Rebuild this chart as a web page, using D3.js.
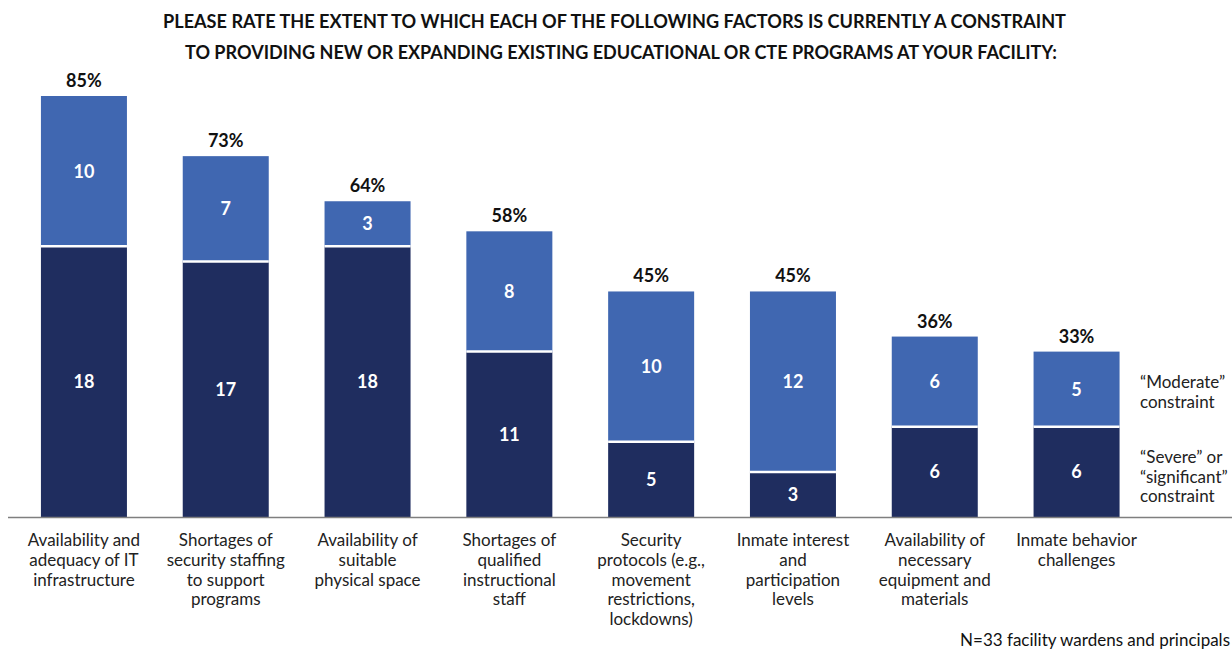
<!DOCTYPE html>
<html>
<head>
<meta charset="utf-8">
<script src="https://cdn.jsdelivr.net/npm/d3@7"></script>
<style>
  html, body { margin: 0; padding: 0; background: #fff; }
  svg { display: block; }
</style>
</head>
<body>
<svg id="chart" width="1232" height="649"></svg>
<script>
// Constraint factors, counts of respondents (N = 33)
const categories = [
  ["Availability and", "adequacy of IT", "infrastructure"],
  ["Shortages of", "security staffing", "to support", "programs"],
  ["Availability of", "suitable", "physical space"],
  ["Shortages of", "qualified", "instructional", "staff"],
  ["Security", "protocols (e.g.,", "movement", "restrictions,", "lockdowns)"],
  ["Inmate interest", "and", "participation", "levels"],
  ["Availability of", "necessary", "equipment and", "materials"],
  ["Inmate behavior", "challenges"]
];
const severe   = [18, 17, 18, 11, 5, 3, 6, 6];
const moderate = [10, 7, 3, 8, 10, 12, 6, 5];
const respondents = 33;

const titleLines = [
  "PLEASE RATE THE EXTENT TO WHICH EACH OF THE FOLLOWING FACTORS IS CURRENTLY A CONSTRAINT",
  "TO PROVIDING NEW OR EXPANDING EXISTING EDUCATIONAL OR CTE PROGRAMS AT YOUR FACILITY:"
];
const legendModerate = ["\u201CModerate\u201D", "constraint"];
const legendSevere = ["\u201CSevere\u201D or", "\u201Csignificant\u201D", "constraint"];
const footnote = "N=33 facility wardens and principals";

const colors = { severe: "#1f2d5f", moderate: "#4067b1" };
const labelFont = "Lato, 'Open Sans', sans-serif";

const svg = d3.select("#chart");
const baseline = 517;

const x = d3.scaleBand()
  .domain(d3.range(categories.length))
  .range([13, 1147.5])
  .paddingInner(0.3935)
  .paddingOuter(0.197);

const y = d3.scaleLinear()
  .domain([0, 28])
  .range([baseline, 96]);

// Title, two centred lines
const titleLayout = [
  { cx: 614.5, len: 903 },
  { cx: 621, len: 872 }
];
svg.append("g").selectAll("text")
  .data(titleLines)
  .join("text")
  .attr("x", (d, i) => titleLayout[i].cx)
  .attr("y", (d, i) => 28 + i * 31)
  .attr("text-anchor", "middle")
  .attr("font-family", labelFont)
  .attr("font-weight", "bold")
  .attr("font-size", 18)
  .attr("textLength", (d, i) => titleLayout[i].len)
  .attr("lengthAdjust", "spacingAndGlyphs")
  .attr("fill", "#111")
  .text(d => d);

// Stacked bars
const rows = categories.map((c, i) => ({
  i, sev: severe[i], mod: moderate[i], total: severe[i] + moderate[i]
}));

const bars = svg.append("g").selectAll("g").data(rows).join("g");

bars.append("rect")
  .attr("x", d => x(d.i))
  .attr("width", x.bandwidth())
  .attr("y", d => y(d.sev))
  .attr("height", d => y(0) - y(d.sev))
  .attr("fill", colors.severe);

bars.append("rect")
  .attr("x", d => x(d.i))
  .attr("width", x.bandwidth())
  .attr("y", d => y(d.total))
  .attr("height", d => y(d.sev) - y(d.total))
  .attr("fill", colors.moderate);

// White divider between the two segments
bars.append("line")
  .attr("x1", d => x(d.i))
  .attr("x2", d => x(d.i) + x.bandwidth())
  .attr("y1", d => y(d.sev))
  .attr("y2", d => y(d.sev))
  .attr("stroke", "#fff")
  .attr("stroke-width", 2.5);

// Segment values
bars.append("text")
  .attr("x", d => x(d.i) + x.bandwidth() / 2)
  .attr("y", d => (y(0) + y(d.sev)) / 2 + 6.5)
  .attr("text-anchor", "middle")
  .attr("font-family", labelFont)
  .attr("font-weight", "bold")
  .attr("font-size", 18)
  .attr("fill", "#fff")
  .text(d => d.sev);

bars.append("text")
  .attr("x", d => x(d.i) + x.bandwidth() / 2)
  .attr("y", d => (y(d.sev) + y(d.total)) / 2 + 6.5)
  .attr("text-anchor", "middle")
  .attr("font-family", labelFont)
  .attr("font-weight", "bold")
  .attr("font-size", 18)
  .attr("fill", "#fff")
  .text(d => d.mod);

// Share of respondents naming the factor as any constraint
bars.append("text")
  .attr("x", d => x(d.i) + x.bandwidth() / 2)
  .attr("y", d => y(d.total) - 9)
  .attr("text-anchor", "middle")
  .attr("font-family", labelFont)
  .attr("font-weight", "bold")
  .attr("font-size", 18)
  .attr("fill", "#111")
  .text(d => Math.round(d.total / respondents * 100) + "%");

// Baseline
svg.append("line")
  .attr("x1", 8).attr("x2", 1232)
  .attr("y1", baseline + 0.5).attr("y2", baseline + 0.5)
  .attr("stroke", "#7f7f7f")
  .attr("stroke-width", 1.5);

// Category labels
const cat = svg.append("g").selectAll("text").data(categories).join("text")
  .attr("x", (d, i) => x(i) + x.bandwidth() / 2)
  .attr("y", 546)
  .attr("text-anchor", "middle")
  .attr("font-family", labelFont)
  .attr("font-size", 17)
  .attr("fill", "#222");
cat.selectAll("tspan").data(d => d).join("tspan")
  .attr("x", function() { return this.parentNode.getAttribute("x"); })
  .attr("dy", (d, i) => i === 0 ? 0 : 19.8)
  .text(d => d);

// Legend, aligned with the last bar's segments
function legendBlock(lines, yStart) {
  svg.append("g").selectAll("text").data(lines).join("text")
    .attr("x", 1140)
    .attr("y", (d, i) => yStart + i * 19.5)
    .attr("font-family", labelFont)
    .attr("font-size", 17)
    .attr("fill", "#222")
    .text(d => d);
}
legendBlock(legendModerate, 388);
legendBlock(legendSevere, 463);

// Footnote
svg.append("text")
  .attr("x", 1230)
  .attr("y", 646)
  .attr("text-anchor", "end")
  .attr("font-family", labelFont)
  .attr("font-size", 17)
  .attr("fill", "#111")
  .text(footnote);
</script>
</body>
</html>
